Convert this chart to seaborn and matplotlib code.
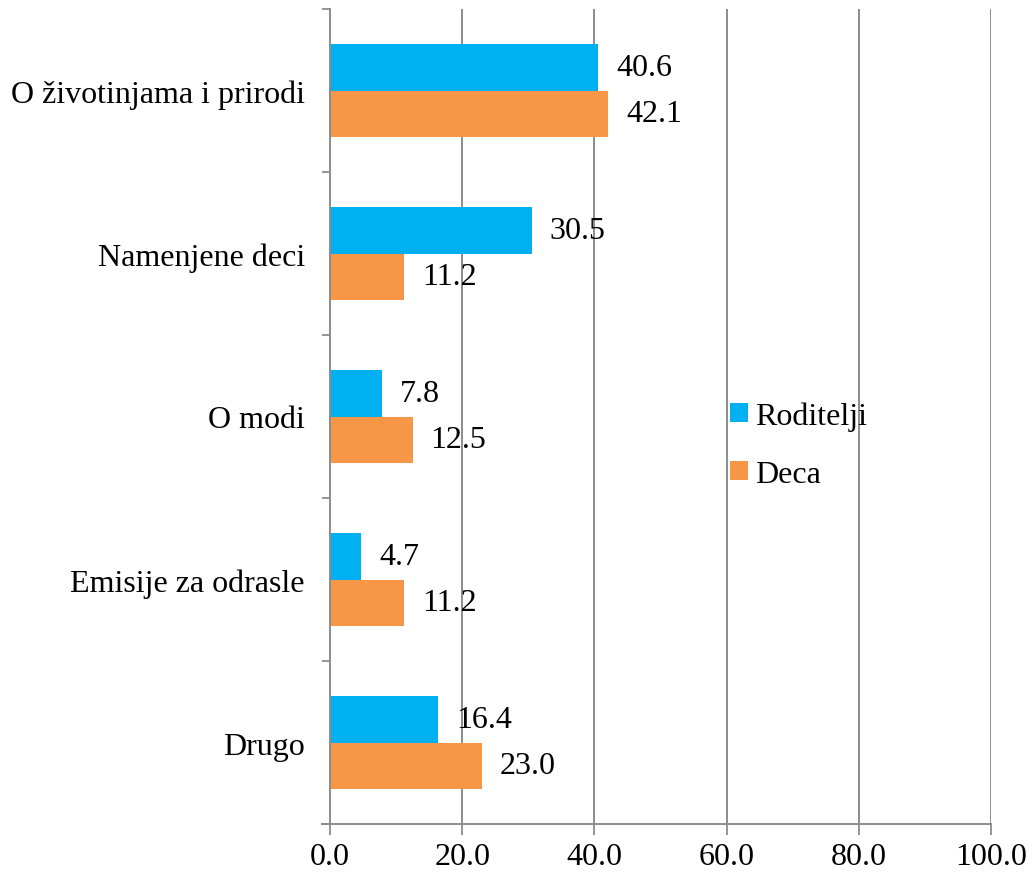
import matplotlib
matplotlib.use("Agg")
import matplotlib.pyplot as plt
from matplotlib.patches import Patch
import numpy as np
import pandas as pd
import seaborn as sns

categories = ["O životinjama i prirodi", "Namenjene deci", "O modi",
              "Emisije za odrasle", "Drugo"]
roditelji = [40.6, 30.5, 7.8, 4.7, 16.4]
deca = [42.1, 11.2, 12.5, 11.2, 23.0]
series = ["Roditelji", "Deca"]
x_ticks = [0, 20, 40, 60, 80, 100]

colors = {"Roditelji": "#00B0F0", "Deca": "#F79646"}
grid_col = "#8C8C8C"
FS = 23

sns.set_theme(style="white")
plt.rcParams["font.family"] = ["Liberation Serif", "DejaVu Serif"]
plt.rcParams["text.color"] = "black"
plt.rcParams["xtick.color"] = "black"
plt.rcParams["ytick.color"] = "black"

df = pd.DataFrame({
    "kategorija": categories * 2,
    "grupa": ["Roditelji"] * len(categories) + ["Deca"] * len(categories),
    "vrednost": roditelji + deca,
})

fig = plt.figure(figsize=(10.32, 8.78), dpi=100)
ax = fig.add_axes([330 / 1032, 1 - 825 / 878, (991 - 330) / 1032, (825 - 10) / 878])

sns.barplot(data=df, y="kategorija", x="vrednost", hue="grupa",
            order=categories, hue_order=series, palette=colors,
            orient="h", width=0.57, saturation=1, linewidth=0,
            ax=ax, legend=False)

ax.set_xlim(0, 100)
ax.set_ylim(len(categories) - 0.5, -0.5)
ax.set_xticks(x_ticks)
ax.set_xticklabels([f"{v:.1f}" for v in x_ticks], fontsize=FS)
ax.set_yticks(range(len(categories)))
ax.set_yticklabels(categories, fontsize=FS)
ax.set_yticks(np.arange(-0.5, len(categories) + 0.5, 1), minor=True)
ax.tick_params(axis="y", which="major", left=False, length=0, pad=18)
ax.tick_params(axis="y", which="minor", left=True, length=6, width=1.3,
               color=grid_col, direction="out")
ax.tick_params(axis="x", which="major", bottom=True, length=8, width=1.3,
               color=grid_col, direction="out", pad=5)
ax.set_xlabel("")
ax.set_ylabel("")

for v in x_ticks[1:]:
    ax.axvline(v, color=grid_col, lw=1.4, zorder=0)

for side in ["top", "right"]:
    ax.spines[side].set_visible(False)
for side in ["left", "bottom"]:
    ax.spines[side].set_color(grid_col)
    ax.spines[side].set_linewidth(1.4)
ax.spines["bottom"].set_bounds(-1.2, 100)

# value labels next to each bar
for cont, vals in zip(ax.containers, [roditelji, deca]):
    for bar, v in zip(cont, vals):
        ax.annotate(f"{v:.1f}", (bar.get_width(), bar.get_y() + bar.get_height() / 2),
                    xytext=(18, 0), textcoords="offset pixels",
                    va="center", ha="left", fontsize=FS, color="black")

handles = [Patch(facecolor=colors[s], edgecolor="none") for s in series]
fig.legend(handles, series, loc="center left", bbox_to_anchor=(730 / 1032, 1 - 446 / 878),
           frameon=False, fontsize=FS, handlelength=0.55, handleheight=0.55,
           handletextpad=0.25, labelspacing=0.9, borderaxespad=0, borderpad=0)

fig.savefig("out.png", dpi=100)
